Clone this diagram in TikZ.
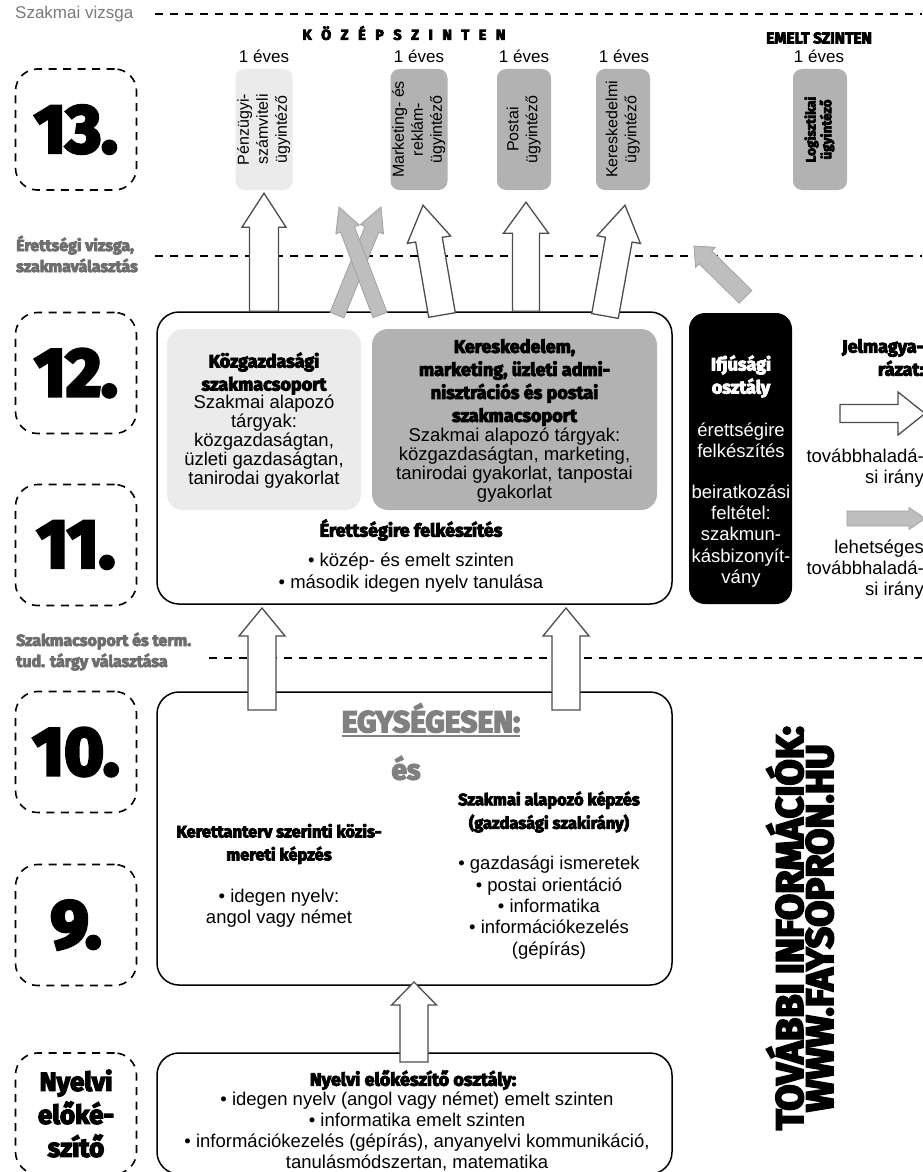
\documentclass[tikz,border=0pt]{standalone}
\usepackage{fontspec}
\setmainfont{Liberation Sans}
\newfontfamily\dispfont{Fira Sans}[BoldFeatures={FakeBold=5}]
\newcommand\dsp{\dispfont\bfseries}
\newcommand\fsz[2]{\fontsize{#1}{#2}\selectfont}
\newcommand\lsp{\hspace{9.5pt}}
\newcommand\rtext[1]{\rotatebox{90}{\begin{tabular}{@{}c@{}}#1\end{tabular}}}
\usetikzlibrary{calc}
\definecolor{lgray}{HTML}{EBEBEB}
\definecolor{mgray}{HTML}{B2B2B2}
\definecolor{lblgray}{HTML}{6E6E6E}
\definecolor{szgray}{HTML}{7A7A7A}
\definecolor{egray}{HTML}{808080}
\definecolor{agray}{HTML}{4D4D4D}
\definecolor{farr}{HTML}{BEBEBE}
% block arrow: style, start, tip, shaft half width, head half width, head length
\newcommand\blockarr[6]{%
  \coordinate (babase) at ($(#3)!#6!(#2)$);
  \draw[#1] ($(#2)!#4!90:(#3)$) -- ($(babase)!#4!90:(#3)$) -- ($(babase)!#5!90:(#3)$) -- (#3)
    -- ($(babase)!#5!-90:(#3)$) -- ($(babase)!#4!-90:(#3)$) -- ($(#2)!#4!-90:(#3)$) -- cycle;}
\begin{document}
\begin{tikzpicture}[x=1pt,y=-1pt,
  numbox/.style={draw, dash pattern=on 8pt off 6.5pt, line width=1.6pt, rounded corners=22pt,
    minimum width=121pt, minimum height=121pt, inner sep=0pt, font=\dsp\fsz{68}{68}},
  colbox/.style={rounded corners=9pt, minimum width=54pt, minimum height=121pt, inner sep=0pt, font=\fsz{16}{19}},
  eves/.style={font=\fsz{17}{17}, inner sep=0pt},
  bigbox/.style={draw, line width=1.5pt, rounded corners=22pt, minimum width=515pt, inner sep=0pt},
  innerbox/.style={rounded corners=16pt, minimum width=194pt, minimum height=181pt, inner sep=0pt},
  bdy/.style={font=\fsz{18.5}{21.3}, align=center, inner sep=0pt},
  ttl/.style={font=\dsp\fsz{18}{23}, align=center, inner sep=0pt},
  hollow/.style={draw=agray, fill=white, line width=1.3pt},
  grayarr/.style={draw=farr!85!black, fill=farr, line width=0.8pt},
  dline/.style={dash pattern=on 8pt off 7pt, line width=1.4pt},
  graylbl/.style={text=lblgray, font=\dsp\fsz{16}{21}, align=left, anchor=west, inner sep=0pt},
]
\useasboundingbox[fill=white] (0,0) rectangle (922,1172);

% dashed separators
\coordinate (l1a) at (155,14);  \coordinate (l1b) at (922,14);
\coordinate (l2a) at (155,256); \coordinate (l2b) at (922,256);
\coordinate (l3a) at (209,658); \coordinate (l3b) at (922,658);
\draw[dline] (l1a) -- (l1b);
\draw[dline] (l2a) -- (l2b);
\draw[dline] (l3a) -- (l3b);

% side labels
\node[anchor=west, inner sep=0pt, text=szgray, font=\fsz{17}{17}] (szv) at (15,14) {Szakmai vizsga};
\node[graylbl] (erv) at (16,254) {Érettségi vizsga,\\szakmaválasztás};
\node[graylbl] (szt) at (16,651.5) {Szakmacsoport és term.\\tud. tárgy választása};

% headings
\node[font=\dsp\fsz{14.5}{15}, inner sep=0pt] (kozep) at (404,33) {K\lsp Ö\lsp Z\lsp É\lsp P\lsp S\lsp Z\lsp I\lsp N\lsp T\lsp E\lsp N};
\node[font=\dsp\fsz{15.5}{15}, inner sep=0pt] (emelt) at (819,38) {EMELT SZINTEN};

% year boxes
\node[numbox] (n13) at (76,129.5) {13.};
\node[numbox] (n12) at (76,373) {12.};
\node[numbox] (n11) at (76,545) {11.};
\node[numbox] (n10) at (76,752) {10.};
\node[numbox] (n9) at (76,925) {9.};
\node[numbox, font=\dsp\fsz{26}{33}, align=center] (nye) at (76,1113.5) {Nyelvi\\előké-\\szítő};

% year-13 columns
\node[eves] (e1) at (264,56) {1 éves};
\node[eves] (e2) at (419,56) {1 éves};
\node[eves] (e3) at (524,56) {1 éves};
\node[eves] (e4) at (624,56) {1 éves};
\node[eves] (e5) at (819,56) {1 éves};
\node[colbox, fill=lgray] (pz) at (264,129.5) {\rtext{Pénzügyi-\\számviteli\\ügyintéző}};
\node[colbox, fill=mgray] (mk) at (419,129.5) {\rtext{Marketing- és\\reklám-\\ügyintéző}};
\node[colbox, fill=mgray] (po) at (524,129.5) {\rtext{Postai\\ügyintéző}};
\node[colbox, fill=mgray] (ke) at (623,129.5) {\rtext{Kereskedelmi\\ügyintéző}};
\node[colbox, fill=mgray, font=\dsp\fsz{13.5}{14}] (lo) at (820,129.5) {\rtext{Logisztikai\\ügyintéző}};

% big boxes
\node[bigbox, minimum height=292pt] (b1211) at (414.5,458) {};
\node[bigbox, minimum height=293pt] (b109) at (414.5,838.5) {};
\node[bigbox, minimum height=121pt] (bny) at (414.5,1113.5) {};

% 11-12 content
\node[innerbox, fill=lgray] (kg) at (264,419.5) {};
\node[innerbox, fill=mgray, minimum width=285pt] (km) at (514.5,419.5) {};
\node[ttl] (kgt) at (264,373.5) {Közgazdasági\\szakmacsoport};
\node[bdy, font=\fsz{18.5}{19}] (kgb) at (264,442) {Szakmai alapozó\\tárgyak:\\közgazdaságtan,\\üzleti gazdaságtan,\\tanirodai gyakorlat};
\node[ttl] (kmt) at (514.5,382.5) {Kereskedelem,\\marketing, üzleti admi-\\nisztrációs és postai\\szakmacsoport};
\node[bdy, font=\fsz{18.5}{19}] (kmb) at (514.5,465) {Szakmai alapozó tárgyak:\\közgazdaságtan, marketing,\\tanirodai gyakorlat, tanpostai\\gyakorlat};
\node[ttl] (erf) at (411,530) {Érettségire felkészítés};
\node[bdy] (erb) at (411,572.5) {• közép- és emelt szinten\\• második idegen nyelv tanulása};

% youth class
\node[fill=black, rounded corners=16pt, minimum width=103pt, minimum height=291pt, inner sep=0pt] (ifj) at (740.5,458.5) {};
\node[ttl, text=white] (ifjt) at (741,376.5) {Ifjúsági\\osztály};
\node[bdy, text=white] (ifjm) at (741,440.5) {érettségire\\felkészítés};
\node[bdy, text=white] (ifjb) at (741,536) {beiratkozási\\feltétel:\\szakmun-\\kásbizonyít-\\vány};

% legend
\node[ttl, align=right, anchor=east] (jel) at (924,357.5) {Jelmagya-\\rázat:};
\coordinate (lg1s) at (840,413.5); \coordinate (lg1t) at (925,413.5);
\blockarr{hollow}{lg1s}{lg1t}{9pt}{21.5pt}{27pt}
\node[bdy, align=right, anchor=east] (lgt1) at (924,468) {továbbhaladá-\\si irány};
\coordinate (lg2s) at (847,518.5); \coordinate (lg2t) at (925,518.5);
\blockarr{grayarr}{lg2s}{lg2t}{7.5pt}{11pt}{16pt}
\node[bdy, align=right, anchor=east] (lgt2) at (924,569.5) {lehetséges\\továbbhaladá-\\si irány};

% 9-10 content
\node[font=\dsp\fsz{30}{30}, text=egray, inner sep=0pt] (egy) at (431,718) {EGYSÉGESEN:};
\draw[egray, line width=2pt] ($(egy.base west)+(0,3.5)$) -- ($(egy.base east)+(0,3.5)$);
\node[font=\dsp\fsz{28}{28}, text=egray, inner sep=0pt] (es) at (406,768) {és};
\node[ttl, font=\dsp\fsz{16.5}{23.5}] (szk) at (549,812) {Szakmai alapozó képzés\\(gazdasági szakirány)};
\node[ttl, font=\dsp\fsz{16.5}{23}] (ker) at (279,844) {Kerettanterv szerinti közis-\\mereti képzés};
\node[bdy] (ker2) at (279,908.5) {• idegen nyelv:\\angol vagy német};
\node[bdy] (szk2) at (549,907.5) {• gazdasági ismeretek\\• postai orientáció\\• informatika\\• információkezelés\\(gépírás)};

% language prep
\node[ttl] (nyt) at (413,1080) {Nyelvi előkészítő osztály:};
\node[bdy, font=\fsz{18.5}{21}] (nyb) at (417,1131.5) {• idegen nyelv (angol vagy német) emelt szinten\\• informatika emelt szinten\\• információkezelés (gépírás), anyanyelvi kommunikáció,\\tanulásmódszertan, matematika};

% info
\node[rotate=90, align=center, font=\dsp\fsz{38}{30}, inner sep=0pt] (info) at (800,928) {TOVÁBBI INFORMÁCIÓK:\\WWW.FAYSOPRON.HU};

% arrows 12 -> 13
\coordinate (a1s) at (pz.south |- b1211.north);
\coordinate (a1t) at ($(pz.south)+(0,3)$);
\blockarr{hollow}{a1s}{a1t}{14.5pt}{22pt}{34pt}
\coordinate (x1s) at (337,315); \coordinate (x1t) at (381,207);
\coordinate (x2s) at (380,315); \coordinate (x2t) at (339,207);
\blockarr{grayarr}{x1s}{x1t}{7.5pt}{12.5pt}{24pt}
\blockarr{grayarr}{x2s}{x2t}{7.5pt}{12.5pt}{24pt}
\coordinate (a2s) at (442,315); \coordinate (a2t) at ($(mk.south)+(4,15)$);
\blockarr{hollow}{a2s}{a2t}{13.5pt}{22pt}{35pt}
\coordinate (a3s) at (po.south |- b1211.north); \coordinate (a3t) at ($(po.south)+(2,12)$);
\coordinate (a3s2) at ($(a3s)+(2,0)$);
\blockarr{hollow}{a3s2}{a3t}{13.5pt}{22.5pt}{31pt}
\coordinate (a4s) at (605,316); \coordinate (a4t) at ($(ke.south)+(2,15)$);
\blockarr{hollow}{a4s}{a4t}{13.5pt}{22pt}{35pt}
\coordinate (a5s) at ($(ifj.north)+(5,-16)$); \coordinate (a5t) at (694,246);
\blockarr{grayarr}{a5s}{a5t}{9pt}{14pt}{16pt}

% arrows 10 -> 11
\coordinate (a6s) at (262,710); \coordinate (a6t) at (262,608);
\blockarr{hollow}{a6s}{a6t}{14pt}{23pt}{28pt}
\coordinate (a7s) at (566,710); \coordinate (a7t) at (566,608);
\blockarr{hollow}{a7s}{a7t}{14pt}{23pt}{28pt}
% arrow prep -> 9
\coordinate (a8s) at (414,1062); \coordinate (a8t) at (414,982);
\blockarr{hollow}{a8s}{a8t}{14pt}{22.5pt}{23pt}
\end{tikzpicture}
\end{document}
